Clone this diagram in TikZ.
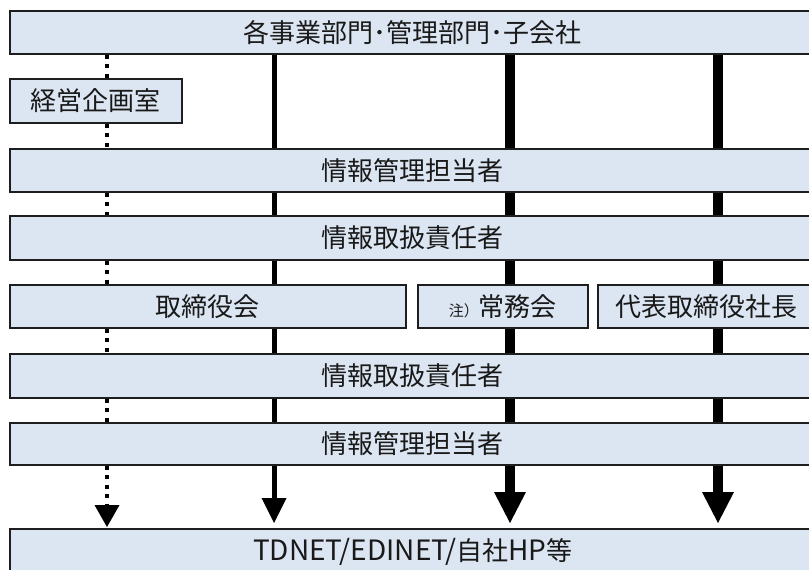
\documentclass[tikz,border=0pt]{standalone}
\usepackage{fontspec}
\setmainfont{Noto Sans CJK JP}
\usetikzlibrary{arrows.meta}
\definecolor{boxfill}{RGB}{220,230,242}
\definecolor{boxline}{RGB}{30,30,30}
\newcommand{\latn}[1]{{\fontsize{28}{30}\selectfont #1}}
\begin{document}
\begin{tikzpicture}[x=1pt,y=-1pt,
  box/.style={draw=boxline, fill=boxfill, line width=1.6pt, anchor=north west,
    inner sep=0pt, font=\fontsize{26}{30}\selectfont, text=black!90},
  dotline/.style={line width=4.5pt, dash pattern=on 4pt off 5.5pt},
  thinline/.style={line width=5pt},
  thickline/.style={line width=9.5pt},
  dottip/.style={-{Triangle[length=22pt,width=25pt,line width=0pt]}},
  thintip/.style={-{Triangle[length=25pt,width=25pt,line width=0pt]}},
  thicktip/.style={-{Triangle[length=31pt,width=32pt,line width=0pt]}}]
\useasboundingbox (0,0) rectangle (809,570);
\begin{scope}
\clip (0,0) rectangle (809,570);
\node[box, minimum width=806pt, minimum height=43pt] (top) at (9,10) {各事業部門･管理部門･子会社};
\node[box, minimum width=172pt, minimum height=44pt] (keiei) at (9,78) {経営企画室};
\node[box, minimum width=806pt, minimum height=43pt] (r3) at (9,148) {情報管理担当者};
\node[box, minimum width=806pt, minimum height=44pt] (r4) at (9,215) {情報取扱責任者};
\node[box, minimum width=396pt, minimum height=43pt] (r5a) at (9,284) {取締役会};
\node[box, minimum width=170pt, minimum height=43pt] (r5b) at (417,284) {{\fontsize{15}{16}\selectfont 注）}常務会};
\node[box, minimum width=218pt, minimum height=43pt] (r5c) at (597,284) {代表取締役社長};
\node[box, minimum width=806pt, minimum height=44pt] (r6) at (9,353) {情報取扱責任者};
\node[box, minimum width=806pt, minimum height=42pt] (r7) at (9,422) {情報管理担当者};
\node[box, minimum width=806pt, minimum height=46pt] (bot) at (9,528) {\latn{TDNET/EDINET/}自社\latn{HP}等};

\coordinate (cA) at (107,0);
\coordinate (cB) at (274,0);
\coordinate (cC) at (510,0);
\coordinate (cD) at (718,0);

% dotted column
\foreach \a/\b in {top/keiei, keiei/r3, r3/r4, r4/r5a, r5a/r6, r6/r7}
  \draw[dotline] (\a.south -| cA) -- (\b.north -| cA);
\draw[dotline, dottip, shorten >=1pt] (r7.south -| cA) -- (bot.north -| cA);

% thin solid column
\foreach \a/\b in {top/r3, r3/r4, r4/r5a, r5a/r6, r6/r7}
  \draw[thinline] (\a.south -| cB) -- (\b.north -| cB);
\draw[thinline, thintip, shorten >=5pt] (r7.south -| cB) -- (bot.north -| cB);

% thick columns
\foreach \a/\b in {top/r3, r3/r4, r4/r5b, r5b/r6, r6/r7}
  \draw[thickline] (\a.south -| cC) -- (\b.north -| cC);
\draw[thickline, thicktip, shorten >=5pt] (r7.south -| cC) -- (bot.north -| cC);

\foreach \a/\b in {top/r3, r3/r4, r4/r5c, r5c/r6, r6/r7}
  \draw[thickline] (\a.south -| cD) -- (\b.north -| cD);
\draw[thickline, thicktip, shorten >=5pt] (r7.south -| cD) -- (bot.north -| cD);
\end{scope}
\end{tikzpicture}
\end{document}
